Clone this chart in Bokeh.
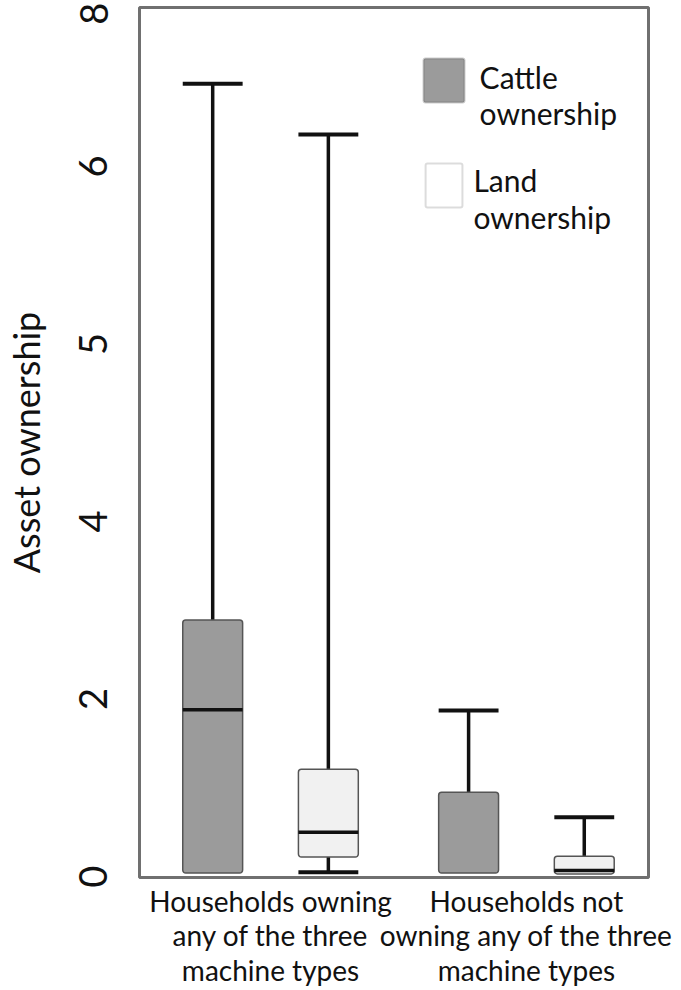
import math
from bokeh.plotting import figure
from bokeh.models import ColumnDataSource, FixedTicker, Range1d, BoxAnnotation, Label
from bokeh.embed import file_html
from bokeh.resources import INLINE

nan = float("nan")

# ---- data ----
group_labels = ["Households owning\nany of the three\nmachine types",
                "Households not\nowning any of the three\nmachine types"]
group_pos = [1, 2]
series_names = ["Cattle\nownership", "Land\nownership"]

cattle_upper = [8.93, 1.87]
cattle_q3 = [2.89, 0.95]
cattle_median = [1.88, nan]
cattle_q1 = [0.04, 0.04]
cattle_lower = [nan, nan]

land_upper = [8.36, 0.67]
land_q3 = [1.21, 0.23]
land_median = [0.50, 0.07]
land_q1 = [0.22, 0.03]
land_lower = [0.05, nan]

y_tick_values = [0, 2, 4, 6, 8, 9.72]
y_tick_labels = ["0", "2", "4", "5", "6", "8"]

# ---- styles / layout ----
FONT = "Lato"
OFFSET = 0.226
BOX_W = 0.234
CATTLE_FILL = "#9b9b9b"
LAND_FILL = "#f1f1f1"
BOX_LINE = "#555555"
INK = "#111111"

p = figure(width=678, height=990, output_backend="svg", toolbar_location=None,
           x_range=Range1d(0.488, 2.477), y_range=Range1d(-0.01, 9.79),
           min_border_left=139, min_border_right=30, min_border_top=7,
           min_border_bottom=113)
p.xgrid.visible = False
p.ygrid.visible = False
p.outline_line_color = "#707070"
p.outline_line_width = 3
p.background_fill_color = "white"
p.border_fill_color = "white"


def make_source(offset, upper, q3, med, q1, lower):
    xs = [g + offset for g in group_pos]
    return ColumnDataSource(dict(
        x=xs, x0=[x - BOX_W / 2 for x in xs], x1=[x + BOX_W / 2 for x in xs],
        upper=upper, q3=q3, med=med, q1=q1, lower=lower))


src_c = make_source(-OFFSET, cattle_upper, cattle_q3, cattle_median, cattle_q1, cattle_lower)
src_l = make_source(OFFSET, land_upper, land_q3, land_median, land_q1, land_lower)

for src, fill in ((src_c, CATTLE_FILL), (src_l, LAND_FILL)):
    p.segment(x0="x", y0="q3", x1="x", y1="upper", source=src, line_color=INK, line_width=3.5)
    p.segment(x0="x", y0="q1", x1="x", y1="lower", source=src, line_color=INK, line_width=3.5)
    p.segment(x0="x0", y0="upper", x1="x1", y1="upper", source=src, line_color=INK, line_width=4)
    p.segment(x0="x0", y0="lower", x1="x1", y1="lower", source=src, line_color=INK, line_width=4)
    p.vbar(x="x", width=BOX_W, top="q3", bottom="q1", source=src,
           fill_color=fill, line_color=BOX_LINE, line_width=1.5, border_radius=3)
    p.segment(x0="x0", y0="med", x1="x1", y1="med", source=src, line_color=INK, line_width=3.5)

# ---- legend (drawn as annotations placed in the upper right of the frame) ----
legend_boxes = [dict(left=1.598, right=1.758, top=9.215, bottom=8.719, fill=CATTLE_FILL, line="#555555"),
                dict(left=1.606, right=1.750, top=8.032, bottom=7.537, fill="white", line="#8a8a8a")]
legend_text_x = [1.817, 1.793]
legend_text_y = [[9.005, 8.600], [7.845, 7.428]]
for name, box, tx, tys in zip(series_names, legend_boxes, legend_text_x, legend_text_y):
    p.add_layout(BoxAnnotation(left=box["left"], right=box["right"], top=box["top"], bottom=box["bottom"],
                               fill_color=box["fill"], fill_alpha=1, line_color=box["line"],
                               line_width=2, border_radius=2))
    for line, ty in zip(name.split("\n"), tys):
        p.add_layout(Label(x=tx, y=ty, text=line, text_font=FONT, text_font_size="30px",
                           text_color=INK, text_baseline="alphabetic", text_align="left"))

# ---- y axis ----
p.yaxis.ticker = FixedTicker(ticks=y_tick_values)
p.yaxis.major_label_overrides = {v: t for v, t in zip(y_tick_values, y_tick_labels)}
p.yaxis.major_label_orientation = "vertical"
p.yaxis.major_label_text_font = FONT
p.yaxis.major_label_text_font_size = "38px"
p.yaxis.major_label_text_color = INK
p.yaxis.major_label_standoff = 26
p.yaxis.major_tick_line_color = None
p.yaxis.minor_tick_line_color = None
p.yaxis.axis_line_color = None
p.yaxis.axis_label = "Asset ownership"
p.yaxis.axis_label_text_font = FONT
p.yaxis.axis_label_text_font_size = "36px"
p.yaxis.axis_label_text_font_style = "normal"
p.yaxis.axis_label_text_color = INK
p.yaxis.axis_label_standoff = 29

# ---- x axis ----
p.xaxis.ticker = FixedTicker(ticks=group_pos)
p.xaxis.major_label_overrides = {g: t for g, t in zip(group_pos, group_labels)}
p.xaxis.major_label_text_font = FONT
p.xaxis.major_label_text_font_size = "28px"
p.xaxis.major_label_text_line_height = 1.02
p.xaxis.major_label_text_color = INK
p.xaxis.major_label_standoff = 0
p.xaxis.major_tick_line_color = None
p.xaxis.minor_tick_line_color = None
p.xaxis.axis_line_color = None

open("out.html", "w").write(file_html(p, INLINE))
